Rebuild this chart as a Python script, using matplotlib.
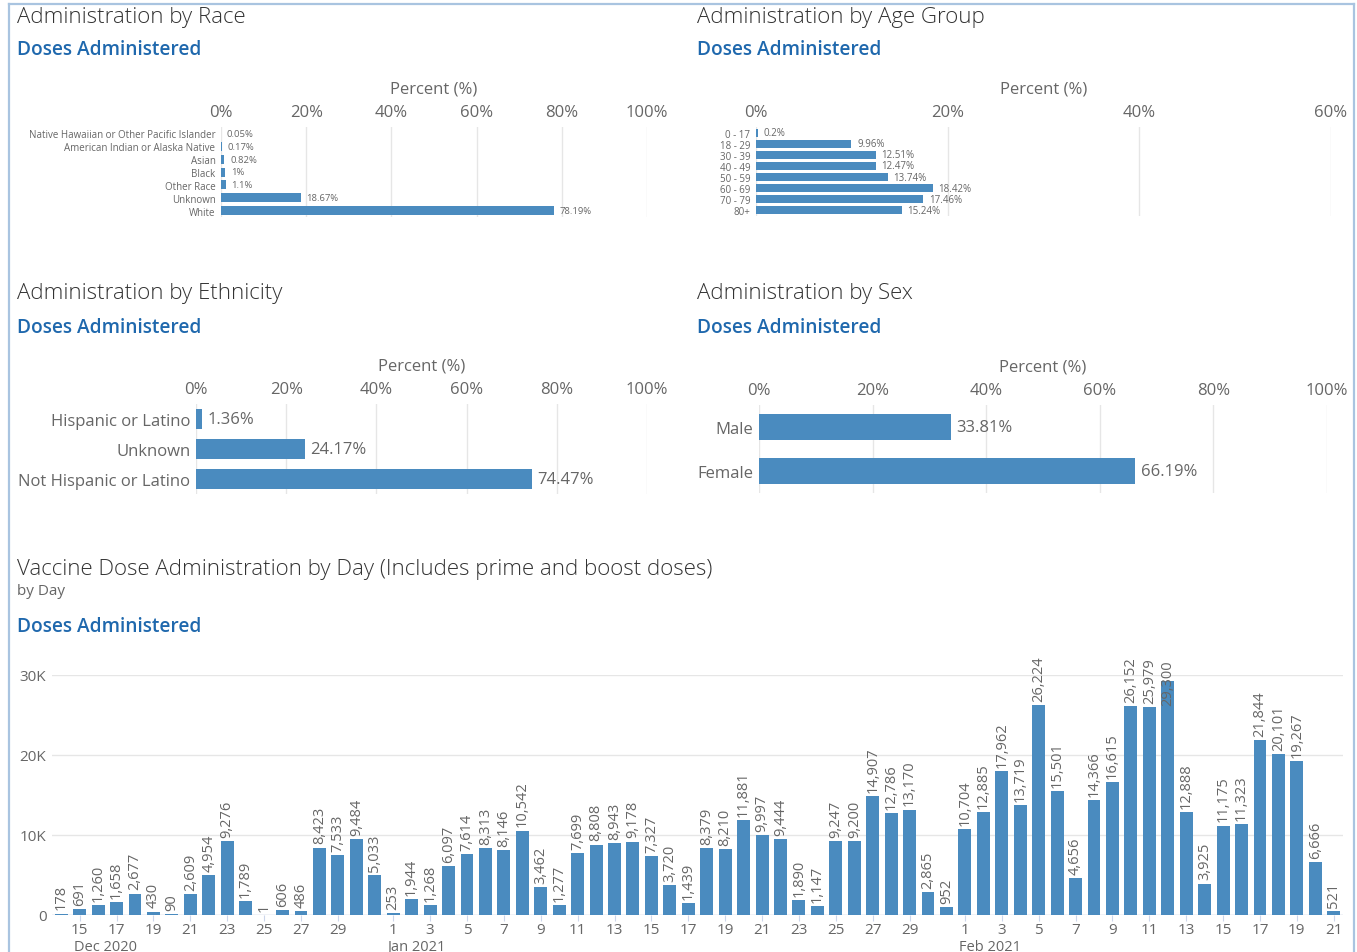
import numpy as np
import pandas as pd
import matplotlib
matplotlib.use("Agg")
import matplotlib.pyplot as plt
from matplotlib.lines import Line2D

# ---- data ----
race_cats = ["Native Hawaiian or Other Pacific Islander", "American Indian or Alaska Native",
             "Asian", "Black", "Other Race", "Unknown", "White"]
race_vals = [0.05, 0.17, 0.82, 1.0, 1.1, 18.67, 78.19]
race_labels = ["0.05%", "0.17%", "0.82%", "1%", "1.1%", "18.67%", "78.19%"]

age_cats = ["0 - 17", "18 - 29", "30 - 39", "40 - 49", "50 - 59", "60 - 69", "70 - 79", "80+"]
age_vals = [0.2, 9.96, 12.51, 12.47, 13.74, 18.42, 17.46, 15.24]

eth_cats = ["Hispanic or Latino", "Unknown", "Not Hispanic or Latino"]
eth_vals = [1.36, 24.17, 74.47]

sex_cats = ["Male", "Female"]
sex_vals = [33.81, 66.19]

day_start = "2020-12-14"
day_end = "2021-02-21"
daily_doses = [178, 691, 1260, 1658, 2677, 430, 90, 2609, 4954, 9276, 1789, 1, 606, 486,
               8423, 7533, 9484, 5033,
               253, 1944, 1268, 6097, 7614, 8313, 8146, 10542, 3462, 1277, 7699, 8808, 8943,
               9178, 7327, 3720, 1439, 8379, 8210, 11881, 9997, 9444, 1890, 1147, 9247, 9200,
               14907, 12786, 13170, 2865, 952,
               10704, 12885, 17962, 13719, 26224, 15501, 4656, 14366, 16615, 26152, 25979,
               29300, 12888, 3925, 11175, 11323, 21844, 20101, 19267, 6666, 521]

W, H = 1357, 953
BAR = "#4a8bbf"
GRID = "#e6e6e6"
TXT = "#666666"
TITLE = "#333333"
BLUE = "#1f68ad"

plt.rcParams['font.family'] = ['Open Sans', 'DejaVu Sans']

fig = plt.figure(figsize=(W / 100, H / 100), dpi=100)


def rect(l, t, r, b):
    return [l / W, 1 - b / H, (r - l) / W, (b - t) / H]


def fig_text(x, y, s, **kw):
    fig.text(x / W, 1 - y / H, s, va="center", ha="left", **kw)


def hbar_panel(box, cats, vals, labels, xmax, step, cat_size, val_size, height):
    ax = fig.add_axes(rect(*box))
    y = np.arange(len(cats))
    ax.barh(y, vals, height=height, color=BAR, zorder=3)
    for yi, v, lab in zip(y, vals, labels):
        ax.annotate(lab, (v, yi), xytext=(4, 0), textcoords="offset points",
                    va="center", ha="left", fontsize=val_size, color=TXT, zorder=4)
    ax.set_xlim(0, xmax)
    ax.set_ylim(len(cats) - 0.5, -0.5)
    ax.set_yticks(y)
    ax.set_yticklabels(cats, fontsize=cat_size, color=TXT)
    xt = np.arange(0, xmax + 0.1, step)
    ax.set_xticks(xt)
    ax.set_xticklabels([f"{int(t)}%" for t in xt], fontsize=12, color=TXT)
    ax.xaxis.tick_top()
    ax.xaxis.set_label_position("top")
    ax.set_xlabel("Percent (%)", fontsize=12, color=TXT, labelpad=8)
    ax.tick_params(length=0, axis="x", pad=5)
    ax.tick_params(length=0, axis="y", pad=4)
    ax.grid(axis="x", color=GRID, lw=1, zorder=0)
    for s in ax.spines.values():
        s.set_visible(False)
    return ax


# ---- frame ----
frame = "#a9c4e0"
fig.add_artist(Line2D([9 / W, 9 / W], [0, 1 - 5 / H], color=frame, lw=1.6))
fig.add_artist(Line2D([1354 / W, 1354 / W], [0, 1 - 5 / H], color=frame, lw=1.6))
fig.add_artist(Line2D([9 / W, 1354 / W], [1 - 5 / H, 1 - 5 / H], color=frame, lw=1.6))

TS, DS = 16, 13.8

# ---- top panels ----
fig_text(17, 17, "Administration by Race", fontsize=TS, color=TITLE, fontweight="light")
fig_text(17, 50, "Doses Administered", fontsize=DS, color=BLUE, fontweight="semibold")
hbar_panel((221, 128, 647, 218), race_cats, race_vals, race_labels, 100, 20, 7, 6.8, 0.7)

fig_text(697, 17, "Administration by Age Group", fontsize=TS, color=TITLE, fontweight="light")
fig_text(697, 50, "Doses Administered", fontsize=DS, color=BLUE, fontweight="semibold")
hbar_panel((756, 128, 1331, 217), age_cats, age_vals, [f"{v:g}%" for v in age_vals],
           60, 20, 7, 7, 0.72)

fig_text(17, 294, "Administration by Ethnicity", fontsize=TS, color=TITLE, fontweight="light")
fig_text(17, 328, "Doses Administered", fontsize=DS, color=BLUE, fontweight="semibold")
hbar_panel((196, 405, 647, 495), eth_cats, eth_vals, [f"{v:g}%" for v in eth_vals],
           100, 20, 12, 12, 0.68)

fig_text(697, 294, "Administration by Sex", fontsize=TS, color=TITLE, fontweight="light")
fig_text(697, 328, "Doses Administered", fontsize=DS, color=BLUE, fontweight="semibold")
hbar_panel((759, 406, 1327, 494), sex_cats, sex_vals, [f"{v:g}%" for v in sex_vals],
           100, 20, 12, 12, 0.6)

# ---- daily chart ----
fig_text(17, 570, "Vaccine Dose Administration by Day (Includes prime and boost doses)",
         fontsize=TS, color=TITLE, fontweight="light")
fig_text(17, 592, "by Day", fontsize=11, color=TXT)
fig_text(17, 627, "Doses Administered", fontsize=DS, color=BLUE, fontweight="semibold")

days = pd.date_range(day_start, day_end, freq="D")
ax = fig.add_axes(rect(52, 676, 1343, 916))
ax.bar(days, daily_doses, width=0.7, color=BAR, zorder=3)
ymax = 30000
for d, v in zip(days, daily_doses):
    if v > 0.9 * ymax:
        ax.annotate(f"{v:,}", (d, 1.0), xycoords=("data", "axes fraction"),
                    xytext=(0, 11), textcoords="offset points", rotation=90,
                    ha="center", va="top", fontsize=10.5, color=TXT, zorder=4)
    else:
        ax.annotate(f"{v:,}", (d, v), xytext=(0, 3), textcoords="offset points",
                    rotation=90, ha="center", va="bottom", fontsize=10.5, color=TXT, zorder=4)

ax.set_ylim(0, ymax)
ax.set_xlim(days[0] - pd.Timedelta(hours=12), days[-1] + pd.Timedelta(hours=12))
ax.set_yticks([0, 10000, 20000, 30000])
ax.set_yticklabels(["0", "10K", "20K", "30K"], fontsize=11, color=TXT)
ticks = [d for d in days if d.day % 2 == 1 and d.day != 31]
ax.set_xticks(ticks)
ax.set_xticklabels([str(d.day) for d in ticks], fontsize=11, color=TXT)
ax.tick_params(axis="x", length=4, color="#ccd6eb", pad=1)
ax.tick_params(axis="y", length=0, pad=4)
ax.grid(axis="y", color=GRID, lw=1, zorder=0)
for s in ax.spines.values():
    s.set_visible(False)
ax.axhline(0, color="#ccd6eb", lw=1, zorder=2)

seen = set()
for d in ticks:
    key = (d.year, d.month)
    if key in seen:
        continue
    seen.add(key)
    ax.annotate(d.strftime("%b %Y"), (d, 0), xycoords=("data", "axes fraction"),
                xytext=(-4, -23), textcoords="offset points", ha="left", va="center",
                fontsize=10.5, color=TXT)

fig.savefig("out.png", dpi=100, facecolor="white")
